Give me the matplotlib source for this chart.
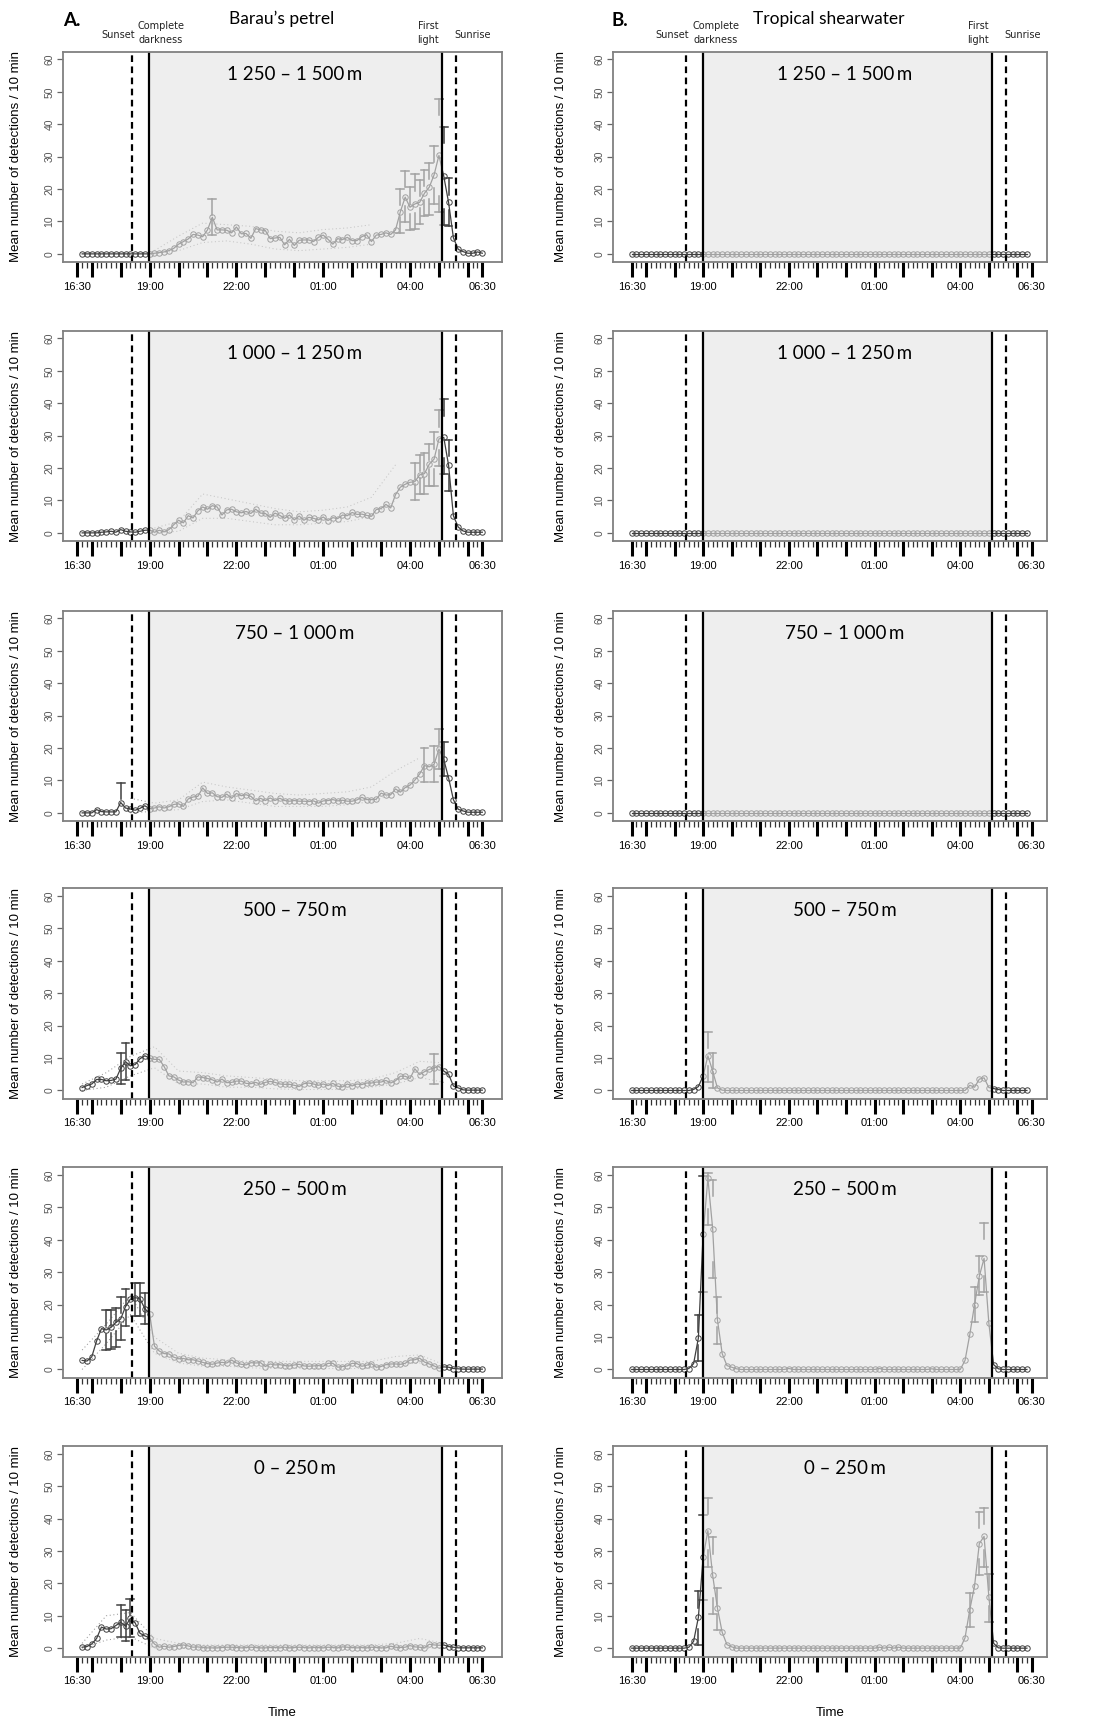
import numpy as np
import matplotlib
matplotlib.use('Agg')
import matplotlib.pyplot as plt

plt.rcParams['font.family'] = ['Liberation Sans', 'DejaVu Sans']
nan = float('nan')

W, H = 1107, 1722

# minutes after 16:30 for each 10-min bin (the two columns are offset by one bin in the source)
times_a = list(range(10, 850, 10))
times_b = list(range(0, 840, 10))

SUNSET, DARKNESS, FIRST_LIGHT, SUNRISE = 113, 149, 756, 785

tick_major = [0, 30, 90, 150, 210, 270, 330, 390, 450, 510, 570, 630, 690, 750, 810, 840]
tick_labels = {0: '16:30', 150: '19:00', 330: '22:00', 510: '01:00', 690: '04:00', 840: '06:30'}

ranges = ['1 250 – 1 500\u2009m', '1 000 – 1 250\u2009m', '750 – 1 000\u2009m',
          '500 – 750\u2009m', '250 – 500\u2009m', '0 – 250\u2009m']

# ---- Barau's petrel (column A) ----
a_1250 = [0, 0, 0, 0, 0, 0, 0, 0, 0, 0, 0, 0, 0, 0,
          0, 0.2, 0.4, 0.6, 1.0, 1.7, 3.0, 3.8, 4.6, 6.0, 5.8, 5.3, 7.4, 11.3, 7.4, 7.4, 7.3, 6.5,
          8.3, 6.2, 6.3, 4.8, 7.8, 7.4, 7.2, 4.7, 4.9, 5.1, 2.8, 4.5, 2.6, 4.2, 4.3, 4.3, 3.8, 5.1,
          5.8, 4.5, 3.0, 4.7, 4.4, 5.1, 4.1, 4.1, 5.3, 5.9, 3.8, 5.8, 6.0, 6.5, 6.0, 7.4, 13.0, 17.5,
          14.4, 15.4, 15.9, 18.7, 20.6, 24.4, 30.4, 24.0, 15.9, 5.0, 1.4, 0.7, 0.2, 0.2, 0.6, 0.2]
a_1000 = [0, 0, 0, 0, 0.2, 0.3, 0.5, 0.2, 1.0, 0.5, 0.3, 0.2, 0.5, 0.8,
          0.9, 0.2, 0.8, 0.3, 1.0, 2.5, 3.9, 3.1, 5.3, 4.6, 6.8, 8.0, 7.3, 8.4, 8.0, 5.5, 7.1, 7.3,
          6.5, 6.2, 6.6, 6.0, 7.3, 6.1, 6.0, 4.8, 6.1, 5.4, 4.5, 5.5, 4.0, 5.2, 3.9, 4.8, 4.5, 4.0,
          4.9, 3.8, 4.7, 4.4, 5.5, 5.3, 6.3, 5.7, 5.8, 5.4, 5.1, 7.2, 7.5, 8.8, 7.7, 11.8, 14.1, 15.0,
          15.6, 15.8, 17.9, 18.3, 21.2, 22.8, 29.0, 29.5, 20.9, 5.3, 1.8, 0.6, 0.2, 0.2, 0.2, 0.2]
a_750 = [0, 0, 0, 1.0, 0.4, 0.3, 0.3, 0.3, 3.2, 1.5, 1.2, 0.8, 1.4, 2.2,
         1.3, 1.5, 1.9, 1.5, 1.9, 2.6, 2.8, 2.0, 4.3, 4.9, 5.1, 7.7, 6.0, 6.2, 5.0, 4.8, 5.8, 4.5,
         6.0, 5.3, 5.6, 5.1, 3.7, 4.5, 3.8, 4.6, 3.8, 4.5, 3.8, 3.6, 3.8, 3.6, 3.6, 3.5, 3.7, 3.0,
         3.7, 3.8, 4.1, 3.7, 3.9, 3.6, 3.6, 4.0, 4.8, 4.1, 4.1, 4.2, 6.1, 5.5, 5.6, 7.4, 6.4, 7.8,
         8.6, 10.1, 12.0, 14.6, 14.2, 15.0, 19.7, 16.5, 10.8, 4.1, 1.1, 0.6, 0.2, 0.2, 0.2, 0.2]
a_500 = [0.9, 1.5, 2.0, 3.4, 3.4, 3.0, 3.1, 3.5, 6.8, 8.9, 7.6, 8.0, 9.8, 10.7,
         10.0, 9.6, 9.6, 7.4, 4.5, 4.2, 3.2, 2.6, 2.7, 2.4, 4.2, 4.0, 3.7, 3.3, 2.6, 3.5, 2.4, 2.5,
         2.9, 2.9, 2.2, 2.1, 2.5, 1.9, 2.5, 2.8, 2.5, 2.0, 1.9, 1.9, 1.6, 1.2, 2.1, 2.3, 2.0, 1.6,
         2.0, 1.5, 2.2, 1.3, 1.1, 2.0, 1.4, 2.0, 1.8, 2.3, 2.3, 2.6, 2.6, 3.1, 2.3, 3.0, 4.4, 4.4,
         3.7, 6.7, 4.9, 5.8, 6.5, 7.0, 7.4, 6.0, 5.0, 1.4, 0.8, 0.2, 0.1, 0.1, 0.1, 0.1]
a_250 = [2.8, 2.6, 3.9, 8.8, 12.6, 12.2, 13.0, 14.5, 15.6, 19.4, 21.7, 22.2, 21.8, 18.8,
         17.2, 7.2, 5.7, 4.9, 4.8, 3.8, 3.3, 3.4, 3.0, 3.0, 2.6, 2.2, 1.8, 1.6, 2.0, 2.2, 2.0, 2.9,
         2.0, 1.6, 1.4, 2.1, 2.0, 2.1, 0.9, 1.7, 1.4, 1.5, 1.2, 1.1, 1.4, 1.6, 1.1, 1.0, 1.1, 1.2,
         1.0, 1.9, 1.9, 0.7, 0.9, 1.1, 1.9, 1.8, 1.0, 1.3, 1.8, 0.7, 0.9, 1.5, 1.7, 1.7, 1.6, 1.9,
         2.9, 3.0, 3.5, 2.3, 1.7, 1.1, 0.4, 0.8, 0.7, 0.3, 0.2, 0.1, 0.1, 0.1, 0.1, 0.1]
a_0 = [0.3, 0.5, 1.3, 3.0, 6.5, 5.9, 6.0, 7.0, 8.0, 6.8, 9.2, 7.8, 4.6, 3.8,
       3.2, 1.3, 0.3, 0.6, 0.3, 0.5, 0.8, 1.0, 0.7, 0.3, 0.4, 0.2,
       0.1, 0.1, 0.1, 0.2, 0.3, 0.3, 0.2, 0.1, 0.2, 0.3, 0.2, 0.1, 0.1, 0.2, 0.2, 0.1, 0.3, 0.1,
       0.2, 0.3, 0.2, 0.1, 0.2, 0.2, 0.1, 0.3, 0.2, 0.1, 0.4, 0.3, 0.2, 0.1, 0.2, 0.1, 0.3, 0.2,
       0.1, 0.1, 0.6, 0.3, 0.2,
       0.3, 0.8, 0.4, 0.3, 0.1, 1.2, 1.0, 0.9, 1.0, 0.5, 0.3, 0.1, 0.1, 0.1, 0.1, 0.1, 0.1]

# error bars: bin index, upper, lower
a_1250_ei = [27, 66, 67, 68, 69, 70, 71, 72, 73, 74, 75, 76]
a_1250_hi = [16.9, 20.1, 25.6, 20.5, 24.5, 22.8, 25.9, 28.0, 33.3, 47.8, 39.2, 23.3]
a_1250_lo = [5.9, 6.4, 9.7, 7.4, 7.6, 9.2, 11.7, 12.0, 15.4, 13.0, 8.9, 8.6]
a_1000_ei = [69, 70, 71, 72, 73, 74, 75, 76]
a_1000_hi = [21.5, 24.0, 24.5, 27.5, 31.0, 37.8, 41.2, 28.8]
a_1000_lo = [10.2, 12.0, 12.0, 14.6, 14.6, 20.5, 18.2, 12.9]
a_750_ei = [8, 71, 73, 74, 75]
a_750_hi = [9.3, 20.0, 20.7, 25.8, 22.0]
a_750_lo = [nan, 9.6, 9.6, 13.5, 11.3]
a_500_ei = [8, 9, 73]
a_500_hi = [11.5, 14.6, 11.3]
a_500_lo = [1.9, 3.3, 1.9]
a_250_ei = [5, 6, 7, 8, 9, 11, 12, 13]
a_250_hi = [18.5, 18.5, 19.1, 22.3, 24.8, 26.6, 26.8, 23.5]
a_250_lo = [6.1, 6.4, 6.9, 9.0, 13.5, 16.6, 16.5, 14.0]
a_0_ei = [8, 9, 10]
a_0_hi = [13.3, 11.7, 15.3]
a_0_lo = [3.4, 2.2, 3.6]

# dotted envelope, read at these times
band_t = [10, 60, 110, 160, 210, 260, 310, 360, 410, 460, 510, 560, 610, 660, 710, 760, 810, 840]
a_1250_blo = [nan, nan, nan, 0, 1.0, 3.5, 4.0, 3.0, 1.5, 1.0, 1.5, 2.0, 3.0, nan, nan, nan, nan, nan]
a_1250_bhi = [nan, nan, nan, 1.0, 5.5, 9.5, 9.0, 8.5, 7.0, 6.5, 7.5, 8.0, 9.0, nan, nan, nan, nan, nan]
a_1000_blo = [nan, nan, nan, 0, 0.5, 4.5, 4.5, 3.5, 2.5, 2.5, 3.0, 3.5, 5.0, 10.0, nan, nan, nan, nan]
a_1000_bhi = [nan, nan, nan, 1.5, 3.5, 12.0, 10.5, 9.0, 7.5, 6.5, 7.0, 8.0, 11.0, 21.0, nan, nan, nan, nan]
a_750_blo = [nan, nan, 0, 0.5, 1.0, 3.5, 4.0, 3.0, 2.0, 2.0, 2.0, 2.5, 3.5, 6.0, 10.0, nan, nan, nan]
a_750_bhi = [nan, nan, 4.5, 3.0, 4.0, 9.5, 8.0, 7.0, 6.0, 5.5, 6.0, 6.5, 8.0, 13.0, 17.0, nan, nan, nan]
a_500_blo = [0, 1.0, 4.5, 7.0, 2.0, 2.0, 1.0, 1.0, 0.5, 0.3, 0.3, 0.3, 1.0, 2.0, 4.0, 2.5, nan, nan]
a_500_bhi = [2.0, 5.5, 10.5, 13.5, 6.0, 5.5, 4.5, 4.0, 3.5, 3.0, 3.0, 3.0, 3.5, 5.5, 9.0, 8.5, nan, nan]
a_250_blo = [0, 8.0, 17.0, 5.0, 2.0, 1.0, 1.0, 0.5, 0.3, 0.3, 0.3, 0.3, 0.3, 1.5, 2.0, 0, nan, nan]
a_250_bhi = [6.0, 14.0, 23.0, 10.0, 5.0, 3.5, 3.0, 2.5, 2.5, 2.5, 2.5, 2.5, 2.5, 4.0, 4.5, 1.5, nan, nan]
a_0_blo = [0, 2.5, 3.5, 0, 0, 0, 0, 0, 0, 0, 0, 0, 0, 0, 0, 0, nan, nan]
a_0_bhi = [1.5, 10.0, 11.0, 3.0, 1.5, 1.0, 1.0, 1.0, 1.0, 1.0, 1.0, 1.0, 1.0, 1.5, 3.0, 1.5, nan, nan]

# ---- Tropical shearwater (column B) ----
b_1250 = [0] * 84
b_1000 = [0] * 84
b_750 = [0] * 84
b_500 = ([0] * 13 + [0.3, 1.2, 4.5, 10.7, 6.0, 0.8, 0.1] + [0] * 51
         + [1.6, 1.0, 3.5, 3.9, 0.9, 0.6, 0.3] + [0] * 6)
b_250 = ([0] * 12 + [0.3, 1.8, 9.7, 41.9, 59.0, 43.5, 15.4, 4.9, 1.2, 0.7, 0.2]
         + [0] * 10 + [0.3] + [0] * 18 + [0.3] + [0] * 10 + [0.2] + [0] * 6
         + [2.8, 10.8, 20.0, 28.8, 34.3, 14.3, 1.5, 0.2] + [0] * 6)
b_0 = ([0] * 12 + [0.3, 2.1, 9.5, 28.0, 36.3, 22.5, 12.4, 4.9, 1.1, 0.4]
       + [0] * 30 + [0.3, 0, 0.3, 0, 0.3] + [0] * 13
       + [3.2, 11.9, 19.2, 32.3, 34.5, 15.9, 1.5, 0.1] + [0] * 6)

b_500_ei = [16, 17]
b_500_hi = [18.0, 11.5]
b_500_lo = [2.6, 0.7]
b_250_ei = [14, 15, 16, 17, 18, 72, 73, 74]
b_250_hi = [16.7, 59.8, 60.5, 58.5, 22.5, 25.5, 35.0, 45.3]
b_250_lo = [2.6, 24.0, 44.5, 28.2, 8.0, 14.5, 23.0, 24.0]
b_0_ei = [14, 15, 16, 17, 18, 71, 73, 74, 75]
b_0_hi = [17.5, 41.0, 46.5, 34.2, 18.5, 17.0, 42.1, 43.4, 23.0]
b_0_lo = [1.0, 15.0, 25.2, 10.6, 5.6, 6.5, 22.6, 25.2, 8.0]

col_a = [
    (a_1250, a_1250_ei, a_1250_hi, a_1250_lo, a_1250_blo, a_1250_bhi),
    (a_1000, a_1000_ei, a_1000_hi, a_1000_lo, a_1000_blo, a_1000_bhi),
    (a_750, a_750_ei, a_750_hi, a_750_lo, a_750_blo, a_750_bhi),
    (a_500, a_500_ei, a_500_hi, a_500_lo, a_500_blo, a_500_bhi),
    (a_250, a_250_ei, a_250_hi, a_250_lo, a_250_blo, a_250_bhi),
    (a_0, a_0_ei, a_0_hi, a_0_lo, a_0_blo, a_0_bhi),
]
col_b = [
    (b_1250, [], [], [], None, None),
    (b_1000, [], [], [], None, None),
    (b_750, [], [], [], None, None),
    (b_500, b_500_ei, b_500_hi, b_500_lo, None, None),
    (b_250, b_250_ei, b_250_hi, b_250_lo, None, None),
    (b_0, b_0_ei, b_0_hi, b_0_lo, None, None),
]

DARK = '#404040'
row_top = [51.7, 330.7, 610.7, 888.3, 1167.3, 1446.0]
box_h = 210.6
col_left = [62.7, 612.7]
col_w = [439.0, 434.0]
col_xlim = [(-30.3, 880.2), (-39.9, 871.5)]
col_times = [times_a, times_b]
col_ylab = [-0.093, -0.105]
col_lab_x = [0.529, 0.535]


def draw_panel(ax, t, mean, ei, ehi, elo, blo, bhi, label, xlim, ylab_x, lab_x):
    ax.set_xlim(xlim)
    ax.set_ylim(-2.6, 62.4)
    if blo is not None:
        ax.plot(band_t, blo, color='#9a9a9a', lw=0.75, ls=(0, (1, 2.5)), zorder=1)
        ax.plot(band_t, bhi, color='#9a9a9a', lw=0.75, ls=(0, (1, 2.5)), zorder=1)
    ax.plot(t, mean, color=DARK, lw=0.9, marker='o', ms=3.9, mfc='none',
            mec=DARK, mew=0.7, zorder=2)
    for k, i in enumerate(ei):
        x, m = t[i], mean[i]
        top, bot = ehi[k], elo[k]
        ax.plot([x - 8, x + 8], [top, top], color=DARK, lw=1.1, zorder=2)
        ax.plot([x, x], [top, max(m, top - 5)], color=DARK, lw=1.1, zorder=2)
        if not np.isnan(bot):
            ax.plot([x - 8, x + 8], [bot, bot], color=DARK, lw=1.1, zorder=2)
            ax.plot([x, x], [bot, min(m, bot + 5)], color=DARK, lw=1.1, zorder=2)
    # night shading drawn on top so the night part of the series looks lighter
    ax.axvspan(DARKNESS, FIRST_LIGHT, color='#e3e3e3', alpha=0.6, lw=0, zorder=3)
    ax.axvline(SUNSET, color='black', lw=1.6, ls=(0, (3, 2)), zorder=4)
    ax.axvline(DARKNESS, color='black', lw=1.6, zorder=4)
    ax.axvline(FIRST_LIGHT, color='black', lw=1.6, zorder=4)
    ax.axvline(SUNRISE, color='black', lw=1.6, ls=(0, (3, 2)), zorder=4)

    for s in ax.spines.values():
        s.set_color('#808080')
        s.set_linewidth(1.3)
        s.set_zorder(5)

    ax.set_xticks(tick_major)
    ax.set_xticklabels([tick_labels.get(v, '') for v in tick_major])
    ax.set_xticks([v for v in range(0, 850, 10) if v not in tick_major], minor=True)
    ax.tick_params(axis='x', which='major', length=11, width=2.2, color='black',
                   pad=3, labelsize=8)
    ax.tick_params(axis='x', which='minor', length=4.5, width=0.9, color='#333333')
    ax.set_yticks([0, 10, 20, 30, 40, 50, 60])
    ax.tick_params(axis='y', length=4, width=0.9, color='#666666', labelsize=7.5,
                   labelcolor='#555555', pad=2, labelrotation=90)
    for lab in ax.get_yticklabels():
        lab.set_va('center')
    ax.set_ylabel('Mean number of detections / 10 min', fontsize=9.5)
    ax.yaxis.set_label_coords(ylab_x, 0.5)
    ax.text(lab_x, 0.893, label, transform=ax.transAxes, ha='center', va='center',
            fontsize=13.5, family=['Lato', 'DejaVu Sans'], zorder=6)


fig = plt.figure(figsize=(W / 100, H / 100), dpi=100)

for c, col in enumerate([col_a, col_b]):
    for r, (mean, ei, ehi, elo, blo, bhi) in enumerate(col):
        ax = fig.add_axes([col_left[c] / W, 1 - (row_top[r] + box_h) / H,
                           col_w[c] / W, box_h / H])
        draw_panel(ax, col_times[c], mean, ei, ehi, elo, blo, bhi, ranges[r],
                   col_xlim[c], col_ylab[c], col_lab_x[c])


def ftext(x, y, s, **kw):
    fig.text(x / W, 1 - y / H, s, ha='center', va='center', **kw)


hdr = dict(family=['Lato', 'DejaVu Sans'])
small = dict(family=['DejaVu Sans'], fontsize=7, color='#222222')

ftext(72, 21, 'A.', fontsize=13.5, weight='bold', **hdr)
ftext(282, 19, 'Barau’s petrel', fontsize=12.5, **hdr)
ftext(118, 35, 'Sunset', **small)
ftext(161, 26, 'Complete', **small)
ftext(161, 40, 'darkness', **small)
ftext(428, 26, 'First', **small)
ftext(428, 40, 'light', **small)
ftext(473, 35, 'Sunrise', **small)

ftext(620, 21, 'B.', fontsize=13.5, weight='bold', **hdr)
ftext(829, 19, 'Tropical shearwater', fontsize=12.5, **hdr)
ftext(672, 35, 'Sunset', **small)
ftext(716, 26, 'Complete', **small)
ftext(716, 40, 'darkness', **small)
ftext(978, 26, 'First', **small)
ftext(978, 40, 'light', **small)
ftext(1023, 35, 'Sunrise', **small)

ftext(282, 1713, 'Time', fontsize=9.5)
ftext(830, 1713, 'Time', fontsize=9.5)

fig.savefig('out.png', dpi=100)
